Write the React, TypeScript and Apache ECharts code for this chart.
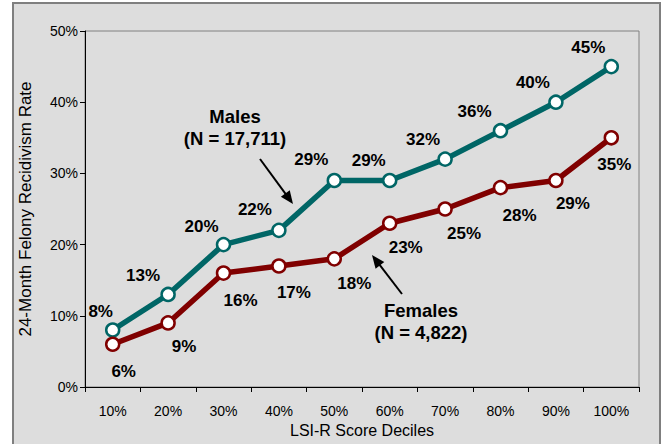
import React, { useEffect, useRef } from "react";
import * as echarts from "echarts";

const categories = ["10%", "20%", "30%", "40%", "50%", "60%", "70%", "80%", "90%", "100%"];
const males = [8, 13, 20, 22, 29, 29, 32, 36, 40, 45];
const females = [6, 9, 16, 17, 18, 23, 25, 28, 29, 35];
const yTicks = { min: 0, max: 50, interval: 10 };

// label offsets (styling, px)
const maleOffsets: [number, number][] = [
  [-12, -19], [-25, -19], [-22, -18], [-24, -21], [-23, -21],
  [-21, -20], [-22, -20], [-26, -19], [-23, -20], [-23, -19],
];
const femaleOffsets: [number, number][] = [
  [11, 27], [16, 24], [17, 27], [15, 27], [20, 25],
  [16, 24], [19, 24], [19, 28], [17, 23], [3, 27],
];

const FONT = "'Liberation Sans', Arial, sans-serif";
const TEAL = "#006666";
const RED = "#800000";

function arrow(tail: [number, number], tip: [number, number]) {
  const dx = tip[0] - tail[0];
  const dy = tip[1] - tail[1];
  const len = Math.sqrt(dx * dx + dy * dy);
  const ux = dx / len, uy = dy / len;
  const hl = 13, hw = 5.5;
  const bx = tip[0] - hl * ux, by = tip[1] - hl * uy;
  const px = -uy * hw, py = ux * hw;
  return [
    {
      type: "line",
      shape: { x1: tail[0], y1: tail[1], x2: bx + ux * 2, y2: by + uy * 2 },
      style: { stroke: "#000", lineWidth: 2 },
      z: 10,
    },
    {
      type: "polygon",
      shape: { points: [[tip[0], tip[1]], [bx + px, by + py], [bx - px, by - py]] },
      style: { fill: "#000" },
      z: 10,
    },
  ];
}

const annFont = `bold 18.5px ${FONT}`;

export default function App() {
  const ref = useRef<HTMLDivElement>(null);
  useEffect(() => {
    if (!ref.current) return;
    const chart = echarts.init(ref.current, undefined, { renderer: "svg" });
    const mk = (vals: number[], offs: [number, number][]) =>
      vals.map((v, i) => ({
        value: v,
        label: { offset: offs[i] },
      }));
    chart.setOption({
      animation: false,
      backgroundColor: "#ffffff",
      textStyle: { fontFamily: FONT },
      graphic: [
        {
          type: "rect",
          shape: { x: 13, y: 3, width: 647, height: 446 },
          style: { fill: "#DDDDDD", stroke: "#7F7F7F", lineWidth: 2 },
          z: -10,
          silent: true,
        },
        ...arrow([260, 159], [293, 204]),
        ...arrow([402, 294], [372, 255]),
        {
          type: "text",
          x: 235, y: 116,
          style: { text: "Males", font: annFont, fill: "#000", align: "center", verticalAlign: "middle" },
          z: 10,
        },
        {
          type: "text",
          x: 235, y: 138,
          style: { text: "(N = 17,711)", font: annFont, fill: "#000", align: "center", verticalAlign: "middle" },
          z: 10,
        },
        {
          type: "text",
          x: 421, y: 310,
          style: { text: "Females", font: annFont, fill: "#000", align: "center", verticalAlign: "middle" },
          z: 10,
        },
        {
          type: "text",
          x: 421, y: 332,
          style: { text: "(N = 4,822)", font: annFont, fill: "#000", align: "center", verticalAlign: "middle" },
          z: 10,
        },
      ],
      grid: {
        left: 85, top: 31, right: 27, bottom: 57,
        show: true, borderColor: "#808080", borderWidth: 1, backgroundColor: "transparent",
      },
      xAxis: {
        type: "category",
        data: categories,
        boundaryGap: true,
        name: "LSI-R Score Deciles",
        nameLocation: "middle",
        nameGap: 30,
        nameTextStyle: { fontSize: 16, color: "#000", fontFamily: FONT },
        axisLine: { lineStyle: { color: "#000", width: 1 } },
        axisTick: { show: true, inside: false, length: 5, lineStyle: { color: "#000" } },
        axisLabel: { fontSize: 14, color: "#000", margin: 17, fontFamily: FONT },
        splitLine: { show: false },
      },
      yAxis: {
        type: "value",
        min: yTicks.min,
        max: yTicks.max,
        interval: yTicks.interval,
        name: "24-Month Felony Recidivism Rate",
        nameLocation: "middle",
        nameGap: 51,
        nameRotate: 90,
        nameTextStyle: { fontSize: 17, color: "#000", fontFamily: FONT },
        axisLine: { show: true, lineStyle: { color: "#000", width: 1 } },
        axisTick: { show: true, inside: false, length: 5, lineStyle: { color: "#000" } },
        axisLabel: { fontSize: 14, color: "#000", margin: 7, formatter: "{value}%", fontFamily: FONT },
        splitLine: { show: false },
      },
      series: [
        {
          name: "Males",
          type: "line",
          data: mk(males, maleOffsets),
          symbol: "circle",
          symbolSize: 13,
          lineStyle: { color: TEAL, width: 5.5 },
          itemStyle: { color: "#fff", borderColor: TEAL, borderWidth: 2.5 },
          label: {
            show: true, position: "inside", formatter: "{c}%",
            fontSize: 17, fontWeight: "bold", color: "#000", fontFamily: FONT,
          },
          z: 3,
        },
        {
          name: "Females",
          type: "line",
          data: mk(females, femaleOffsets),
          symbol: "circle",
          symbolSize: 13,
          lineStyle: { color: RED, width: 5.5 },
          itemStyle: { color: "#fff", borderColor: RED, borderWidth: 2.5 },
          label: {
            show: true, position: "inside", formatter: "{c}%",
            fontSize: 17, fontWeight: "bold", color: "#000", fontFamily: FONT,
          },
          z: 3,
        },
      ],
    });
    return () => chart.dispose();
  }, []);
  return (
    <div
      ref={ref}
      style={{ position: "fixed", left: 0, top: 0, width: 666, height: 444 }}
    />
  );
}
